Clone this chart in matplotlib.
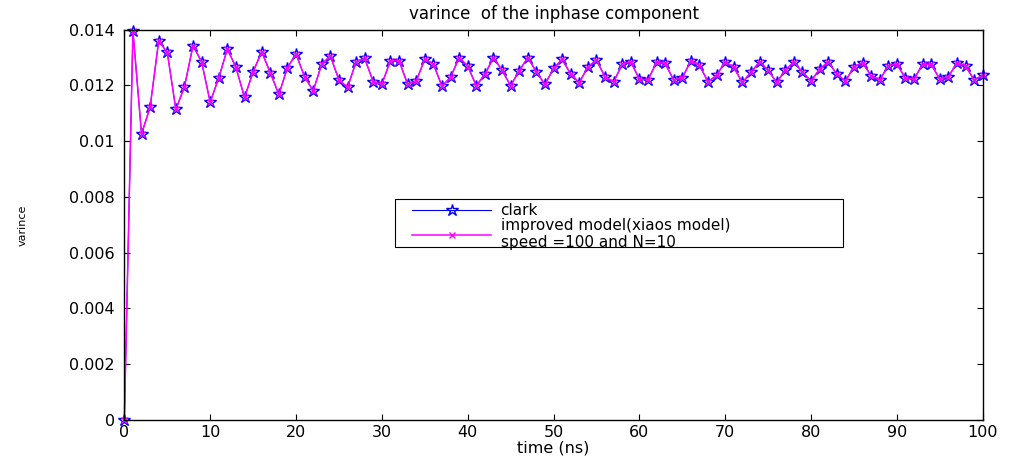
import matplotlib
matplotlib.use("Agg")
import matplotlib.pyplot as plt
from matplotlib.patches import Rectangle

plt.rcParams["font.family"] = "DejaVu Sans"
plt.rcParams["font.size"] = 11

# time axis (ns), one sample per ns
time_ns = list(range(101))

# variance of the inphase component, clark model
clark = [
    0.0, 0.01396, 0.01026, 0.01122, 0.01360, 0.01319, 0.01114, 0.01195, 0.01343, 0.01285,
    0.01140, 0.01228, 0.01331, 0.01265, 0.01157, 0.01249, 0.01321, 0.01246, 0.01168, 0.01264,
    0.01313, 0.01231, 0.01181, 0.01277, 0.01306, 0.01220, 0.01193, 0.01285, 0.01297, 0.01213,
    0.01205, 0.01289, 0.01289, 0.01205, 0.01216, 0.01294, 0.01277, 0.01198, 0.01229, 0.01300,
    0.01270, 0.01199, 0.01240, 0.01300, 0.01255, 0.01199, 0.01253, 0.01300, 0.01249, 0.01204,
    0.01261, 0.01294, 0.01241, 0.01210, 0.01267, 0.01291, 0.01231, 0.01213, 0.01276, 0.01285,
    0.01223, 0.01220, 0.01283, 0.01279, 0.01220, 0.01228, 0.01288, 0.01273, 0.01213, 0.01237,
    0.01285, 0.01265, 0.01211, 0.01247, 0.01285, 0.01255, 0.01211, 0.01255, 0.01285, 0.01248,
    0.01216, 0.01259, 0.01285, 0.01241, 0.01216, 0.01267, 0.01282, 0.01235, 0.01220, 0.01271,
    0.01277, 0.01226, 0.01223, 0.01276, 0.01276, 0.01223, 0.01231, 0.01282, 0.01270, 0.01220,
    0.01237,
]

# improved (xiao) model -- lies on top of the clark curve
improved = list(clark)

y_ticks = [0, 0.002, 0.004, 0.006, 0.008, 0.01, 0.012, 0.014]
y_tick_labels = ["0", "0.002", "0.004", "0.006", "0.008", "0.01", "0.012", "0.014"]
x_ticks = [0, 10, 20, 30, 40, 50, 60, 70, 80, 90, 100]

fig = plt.figure(figsize=(10.11, 4.65), dpi=100)
ax = fig.add_axes([0.123, 0.097, 0.849, 0.839])

h1, = ax.plot(time_ns, clark, color="blue", linewidth=0.8, marker="*",
              markersize=9, markerfacecolor="none", markeredgecolor="blue",
              markeredgewidth=1.0, clip_on=False)
h2, = ax.plot(time_ns, improved, color="magenta", linewidth=1.1, marker="x",
              markersize=4, markeredgewidth=1.0, clip_on=False)

ax.set_xlim(0, 100)
ax.set_ylim(0, 0.014)
ax.set_xticks(x_ticks)
ax.set_yticks(y_ticks)
ax.set_yticklabels(y_tick_labels)
ax.tick_params(direction="in", length=4, width=0.8, top=True, right=True,
               labelsize=11.5)
ax.tick_params(axis="y", pad=7)
ax.tick_params(axis="x", pad=4)
for s in ax.spines.values():
    s.set_linewidth(1.0)

ax.set_title("varince  of the inphase component", fontsize=12, pad=8)
ax.set_xlabel("time (ns)", fontsize=11.5, labelpad=0)
ax.set_ylabel("varince", fontsize=8, labelpad=30)

# legend box is drawn by hand so the second label spills over its edge
ax.add_patch(Rectangle((0.315, 0.443), 0.522, 0.123, transform=ax.transAxes,
                       facecolor="white", edgecolor="black", linewidth=0.8,
                       zorder=4))
leg = ax.legend([h1, h2],
                ["clark", "improved model(xiaos model)\nspeed =100 and N=10"],
                loc="upper left", bbox_to_anchor=(0.335, 0.556), frameon=False,
                fontsize=11, handlelength=5.2, handletextpad=0.6,
                labelspacing=0.0, borderaxespad=0, borderpad=0)
leg.set_zorder(5)

fig.savefig("out.png", dpi=100)
